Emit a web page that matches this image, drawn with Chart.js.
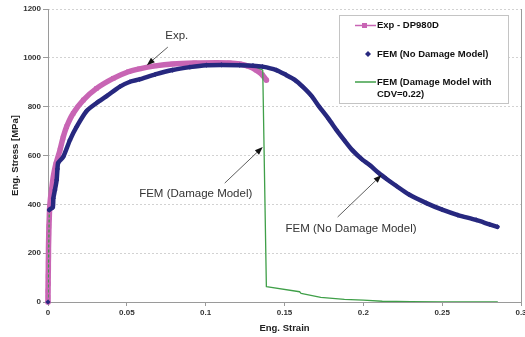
<!DOCTYPE html>
<html>
<head>
<meta charset="utf-8">
<script src="https://cdn.jsdelivr.net/npm/chart.js@4"></script>
<style>
  html, body { margin: 0; padding: 0; background: #fff; }
  #wrap { width: 525px; height: 337px; position: relative; }
</style>
</head>
<body>
<div id="wrap"><canvas id="c" width="525" height="337"></canvas></div>
<script>
// ---- Data ----
const expStrain = [0, 0, 0, 0.0001, 0.0001, 0.0002, 0.0002, 0.0003, 0.0003, 0.0004, 0.0005, 0.0006, 0.0008, 0.001, 0.0015, 0.0023, 0.0034, 0.005, 0.0076, 0.0095, 0.0118, 0.016, 0.0224, 0.0308, 0.0414, 0.051, 0.058, 0.068, 0.079, 0.093, 0.107, 0.115, 0.1216, 0.127, 0.132, 0.136, 0.1385];
const expStress = [0, 20, 45, 75, 105, 135, 160, 190, 220, 250, 280, 310, 345, 380, 420, 460, 515, 565, 622, 672, 718, 773, 827, 875, 916, 943, 955, 967, 975, 979, 980, 979, 975, 966, 950, 930, 909];

const noDmgStrain = [0, 0.0008, 0.003, 0.0034, 0.0044, 0.0055, 0.006, 0.0065, 0.0097, 0.0139, 0.0182, 0.0245, 0.0308, 0.0372, 0.0456, 0.052, 0.058, 0.068, 0.079, 0.09, 0.1005, 0.11, 0.1216, 0.13, 0.136, 0.1448, 0.151, 0.1565, 0.1615, 0.167, 0.172, 0.178, 0.183, 0.188, 0.193, 0.199, 0.204, 0.21, 0.2145, 0.221, 0.229, 0.24, 0.25, 0.26, 0.2715, 0.28, 0.285];
const noDmgStress = [0, 377, 387, 425, 459, 500, 545, 570, 595, 663, 718, 782, 815, 843, 882, 902, 912, 932, 950, 962, 970, 971, 970, 968, 964, 950, 930, 910, 882, 845, 800, 750, 704, 662, 622, 585, 561, 527, 505, 475, 440, 405, 378, 356, 336, 318, 308];

const dmgStrain = [0, 0.0008, 0.003, 0.0034, 0.0044, 0.0055, 0.006, 0.0065, 0.0097, 0.0139, 0.0182, 0.0245, 0.0308, 0.0372, 0.0456, 0.052, 0.058, 0.068, 0.079, 0.09, 0.1005, 0.11, 0.1216, 0.13, 0.1362, 0.1385, 0.1596, 0.1605, 0.173, 0.188, 0.2, 0.212, 0.23, 0.25, 0.285];
const dmgStress = [0, 377, 387, 425, 459, 500, 545, 570, 595, 663, 718, 782, 815, 843, 882, 902, 912, 932, 950, 962, 970, 971, 970, 968, 950, 63, 42, 35, 19, 11, 8, 3, 1, 0.5, 0];

const seriesNames = ['Exp - DP980D', 'FEM (No Damage Model)', 'FEM (Damage Model with', 'CDV=0.22)'];
const xTickValues = [0, 0.05, 0.1, 0.15, 0.2, 0.25, 0.3];
const xTickLabels = ['0', '0.05', '0.1', '0.15', '0.2', '0.25', '0.3'];
const yTickLabels = ['0', '200', '400', '600', '800', '1000', '1200'];
const xTitle = 'Eng. Strain';
const yTitle = 'Eng. Stress [MPa]';

// annotation labels, anchored in data units
const annoTexts = ['Exp.', 'FEM (Damage Model)', 'FEM (No Damage Model)'];
const annoTextAt = [[0.0817, 1089], [0.0937, 442], [0.1922, 299]];
const annoArrowFrom = [[0.076, 1044], [0.1121, 487], [0.1837, 348]];
const annoArrowTo = [[0.0627, 970], [0.1362, 635], [0.2115, 520]];

// ---- Styles ----
const PINK = '#c865b4';
const NAVY = '#27287f';
const GREEN = '#3f9f48';
const FONT = '"Liberation Sans", Arial, sans-serif';

const toPts = (xs, ys) => xs.map((x, i) => ({ x: x, y: ys[i] }));

const framePlugin = {
  id: 'frame',
  beforeDatasetsDraw(chart) {
    const { ctx, chartArea: a } = chart;
    ctx.save();
    ctx.strokeStyle = '#9a9a9a';
    ctx.lineWidth = 1;
    ctx.beginPath();
    ctx.moveTo(a.left + 0.5, a.top);
    ctx.lineTo(a.left + 0.5, a.bottom + 0.5);
    ctx.lineTo(a.right + 0.5, a.bottom + 0.5);
    ctx.lineTo(a.right + 0.5, a.top);
    ctx.stroke();
    ctx.restore();
  }
};

const annoPlugin = {
  id: 'anno',
  afterDatasetsDraw(chart) {
    const { ctx } = chart;
    const xs = chart.scales.x, ys = chart.scales.y;
    ctx.save();
    ctx.font = '11.5px ' + FONT;
    ctx.fillStyle = '#333';
    ctx.textAlign = 'center';
    ctx.textBaseline = 'middle';
    annoTexts.forEach((t, i) => {
      ctx.fillText(t, xs.getPixelForValue(annoTextAt[i][0]), ys.getPixelForValue(annoTextAt[i][1]));
    });
    ctx.strokeStyle = '#333';
    ctx.fillStyle = '#111';
    ctx.lineWidth = 0.8;
    annoArrowFrom.forEach((f, i) => {
      const x1 = xs.getPixelForValue(f[0]), y1 = ys.getPixelForValue(f[1]);
      const x2 = xs.getPixelForValue(annoArrowTo[i][0]), y2 = ys.getPixelForValue(annoArrowTo[i][1]);
      const ang = Math.atan2(y2 - y1, x2 - x1);
      const L = 8, W = 3;
      const bx = x2 - L * Math.cos(ang), by = y2 - L * Math.sin(ang);
      ctx.beginPath();
      ctx.moveTo(x1, y1);
      ctx.lineTo(bx, by);
      ctx.stroke();
      ctx.beginPath();
      ctx.moveTo(x2, y2);
      ctx.lineTo(bx + W * Math.sin(ang), by - W * Math.cos(ang));
      ctx.lineTo(bx - W * Math.sin(ang), by + W * Math.cos(ang));
      ctx.closePath();
      ctx.fill();
    });
    // legend box
    const lx = 339, ly = 15, lw = 169, lh = 88;
    ctx.fillStyle = '#fff';
    ctx.fillRect(lx, ly, lw, lh);
    ctx.strokeStyle = '#c4c4c4';
    ctx.lineWidth = 1;
    ctx.strokeRect(lx + 0.5, ly + 0.5, lw, lh);
    ctx.font = 'bold 9.5px ' + FONT;
    ctx.textAlign = 'left';
    ctx.fillStyle = '#111';
    const tx = 377;
    ctx.strokeStyle = PINK; ctx.lineWidth = 1.5;
    ctx.beginPath(); ctx.moveTo(355, 25.5); ctx.lineTo(376, 25.5); ctx.stroke();
    ctx.fillStyle = PINK; ctx.fillRect(362, 23, 5, 5);
    ctx.fillStyle = '#111'; ctx.fillText(seriesNames[0], tx, 25.5);
    ctx.fillStyle = NAVY;
    ctx.beginPath(); ctx.moveTo(368, 51); ctx.lineTo(371, 54); ctx.lineTo(368, 57); ctx.lineTo(365, 54); ctx.closePath(); ctx.fill();
    ctx.fillStyle = '#111'; ctx.fillText(seriesNames[1], tx, 54);
    ctx.strokeStyle = GREEN; ctx.lineWidth = 1.5;
    ctx.beginPath(); ctx.moveTo(355, 82); ctx.lineTo(376, 82); ctx.stroke();
    ctx.fillStyle = '#111';
    ctx.fillText(seriesNames[2], tx, 82);
    ctx.fillText(seriesNames[3], tx, 94);
    ctx.restore();
  }
};

new Chart(document.getElementById('c'), {
  type: 'line',
  data: {
    datasets: [
      {
        label: 'FEM (No Damage Model)',
        data: toPts(noDmgStrain, noDmgStress),
        borderColor: NAVY,
        backgroundColor: NAVY,
        borderWidth: 4.5,
        pointStyle: 'rectRot',
        pointRadius: 2.6,
        pointBorderWidth: 0,
        pointBackgroundColor: NAVY,
        tension: 0.25,
        fill: false,
        clip: 6,
        segment: { borderColor: c => (c.p0DataIndex === 0 ? 'rgba(0,0,0,0)' : undefined) }
      },
      {
        label: 'FEM (Damage Model with CDV=0.22)',
        data: toPts(dmgStrain, dmgStress),
        borderColor: GREEN,
        backgroundColor: GREEN,
        borderWidth: 1.3,
        pointRadius: 0,
        tension: 0,
        fill: false,
        borderDash: [],
        segment: { borderDash: c => (c.p0DataIndex === 0 ? [2, 3] : undefined) }
      },
      {
        label: 'Exp - DP980D',
        data: toPts(expStrain, expStress),
        borderColor: PINK,
        backgroundColor: PINK,
        borderWidth: 5.5,
        pointStyle: 'rect',
        pointRadius: 3.2,
        pointBorderWidth: 0,
        pointBackgroundColor: PINK,
        tension: 0.25,
        fill: false,
        clip: 6
      }
    ]
  },
  options: {
    responsive: false,
    animation: false,
    events: [],
    layout: { padding: { top: 9, right: 3, left: 0, bottom: 0 } },
    plugins: { legend: { display: false }, tooltip: { enabled: false } },
    elements: { line: { borderJoinStyle: 'round', borderCapStyle: 'round' } },
    scales: {
      x: {
        type: 'linear',
        min: 0, max: 0.3,
        afterBuildTicks(s) { s.ticks = xTickValues.map(v => ({ value: v })); },
        afterFit(s) { s.height = 35; s.paddingLeft = 0; s.paddingRight = 0; },
        grid: { display: true, drawOnChartArea: false, drawTicks: true, tickLength: 4, color: '#9a9a9a' },
        border: { display: false },
        ticks: {
          padding: 2,
          color: '#333',
          font: { family: FONT, size: 8, weight: 'bold' },
          maxRotation: 0,
          autoSkip: false,
          callback(v, i) { return xTickLabels[i]; }
        },
        title: { display: true, text: xTitle, color: '#222', font: { family: FONT, size: 9.5, weight: 'bold' }, padding: { top: 0, bottom: 3.3 } }
      },
      y: {
        type: 'linear',
        min: 0, max: 1200,
        afterBuildTicks(s) { s.ticks = yTickLabels.map(v => ({ value: +v })); },
        afterFit(s) { s.width = 48; s.paddingTop = 0; s.paddingBottom = 0; },
        grid: { color: '#d2d2d2', tickColor: '#9a9a9a', tickLength: 5, tickBorderDash: [], borderDash: [2, 2] },
        border: { display: false, dash: [2, 2] },
        ticks: {
          padding: 2,
          color: '#333',
          font: { family: FONT, size: 8, weight: 'bold' },
          autoSkip: false,
          callback(v, i) { return yTickLabels[i]; }
        },
        title: { display: true, text: yTitle, color: '#222', font: { family: FONT, size: 9.5, weight: 'bold' }, padding: { top: 9.3, bottom: 0 } }
      }
    }
  },
  plugins: [framePlugin, annoPlugin]
});
</script>
</body>
</html>
